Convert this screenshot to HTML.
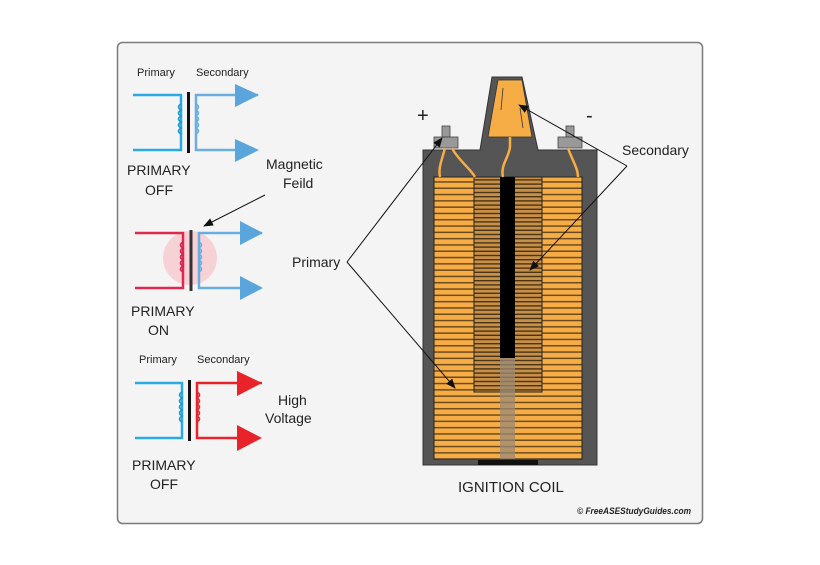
<!DOCTYPE html>
<html><head><meta charset="utf-8"><style>
html,body{margin:0;padding:0;background:#fff}
svg{display:block}
text{font-family:"Liberation Sans",sans-serif;fill:#222}
</style></head><body>
<svg width="820" height="565" viewBox="0 0 820 565" xmlns="http://www.w3.org/2000/svg">
<defs>
<pattern id="pri" width="10" height="6.3" patternUnits="userSpaceOnUse">
<rect width="10" height="6.3" fill="#f7ad45"/><rect y="4.8" width="10" height="1.5" fill="#6b4a1e"/>
</pattern>
<pattern id="sec" width="10" height="4.2" patternUnits="userSpaceOnUse">
<rect width="10" height="4.2" fill="#c89046"/><rect y="2.8" width="10" height="1.4" fill="#4a3416"/>
</pattern>
<marker id="ah" markerWidth="10" markerHeight="8" refX="9" refY="4" orient="auto" markerUnits="userSpaceOnUse"><path d="M0,0 L10,4 L0,8 Z" fill="#111"/></marker>
</defs>
<rect width="820" height="565" fill="#fff"/>
<rect x="117.5" y="42.5" width="585" height="481" rx="5" fill="#f4f4f4" stroke="#7a7a7a" stroke-width="1.5"/>

<!-- Transformer 1 -->
<g fill="none" stroke-width="2.5">
<path d="M133,95 H181 V150 H133" stroke="#29abe2"/>
<path d="M258,95 H196 V150 H240" stroke="#6aaedf"/>
<path d="M181,104 q-5,3 0,6 q-5,3 0,6 q-5,3 0,6 q-5,3 0,6 q-5,3 0,6" stroke="#1f95c9" stroke-width="1.6"/>
<path d="M196,104 q5,3 0,6 q5,3 0,6 q5,3 0,6 q5,3 0,6 q5,3 0,6" stroke="#6aaedf" stroke-width="1.6"/>
<line x1="188.5" y1="92" x2="188.5" y2="153" stroke="#111" stroke-width="3"/>
</g>
<path d="M235,84 L259,95 L235,107 Z M235,139 L259,150 L235,162 Z" fill="#5aa6dc"/>
<text x="137" y="76" font-size="11">Primary</text>
<text x="196" y="76" font-size="11">Secondary</text>
<text x="127" y="175" font-size="14">PRIMARY</text>
<text x="145" y="195" font-size="14">OFF</text>
<text x="266" y="169" font-size="14">Magnetic</text>
<text x="283" y="188" font-size="14">Feild</text>
<line x1="265" y1="195" x2="204" y2="226" stroke="#111" stroke-width="1" marker-end="url(#ah)"/>

<!-- Transformer 2 -->
<circle cx="190" cy="258" r="27" fill="#f6c9cf" opacity="0.8"/>
<g fill="none" stroke-width="2.5">
<path d="M135,233 H183 V288 H135" stroke="#e0284f"/>
<path d="M262,233 H199 V288 H242" stroke="#6aaedf"/>
<path d="M183,242 q-5,3 0,6 q-5,3 0,6 q-5,3 0,6 q-5,3 0,6 q-5,3 0,6" stroke="#d42048" stroke-width="1.6"/>
<path d="M199,242 q5,3 0,6 q5,3 0,6 q5,3 0,6 q5,3 0,6 q5,3 0,6" stroke="#6aaedf" stroke-width="1.6"/>
<line x1="191" y1="230" x2="191" y2="291" stroke="#333" stroke-width="3"/>
</g>
<path d="M240,221 L263,233 L240,245 Z M240,276 L263,288 L240,300 Z" fill="#5aa6dc"/>
<text x="131" y="316" font-size="14">PRIMARY</text>
<text x="148" y="335" font-size="14">ON</text>

<!-- Transformer 3 -->
<g fill="none" stroke-width="2.5">
<path d="M135,383 H182 V438 H135" stroke="#29abe2"/>
<path d="M262,383 H197 V438 H240" stroke="#e8232a"/>
<path d="M182,392 q-5,3 0,6 q-5,3 0,6 q-5,3 0,6 q-5,3 0,6 q-5,3 0,6" stroke="#1f95c9" stroke-width="1.6"/>
<path d="M197,392 q5,3 0,6 q5,3 0,6 q5,3 0,6 q5,3 0,6 q5,3 0,6" stroke="#e8232a" stroke-width="1.6"/>
<line x1="189.5" y1="380" x2="189.5" y2="441" stroke="#111" stroke-width="3"/>
</g>
<path d="M237,371 L262,383 L237,396 Z M237,425 L262,438 L237,451 Z" fill="#e8232a"/>
<text x="139" y="363" font-size="11">Primary</text>
<text x="197" y="363" font-size="11">Secondary</text>
<text x="278" y="405" font-size="14">High</text>
<text x="265" y="423" font-size="14">Voltage</text>
<text x="132" y="470" font-size="14">PRIMARY</text>
<text x="150" y="489" font-size="14">OFF</text>

<!-- Ignition coil -->
<path d="M492,77 H522 L538,150 H597 V465 H423 V150 H480 Z" fill="#555" stroke="#333" stroke-width="1"/>
<path d="M498,80 H522 L532,137 H488 Z" fill="#f7ad45" stroke="#333" stroke-width="0.8"/>
<line x1="503" y1="88" x2="501" y2="110" stroke="#333" stroke-width="0.8"/>
<line x1="520" y1="108" x2="523" y2="128" stroke="#333" stroke-width="0.8"/>
<rect x="442" y="126" width="8" height="11" fill="#999" stroke="#444" stroke-width="0.8"/>
<rect x="434" y="137" width="24" height="11" fill="#999" stroke="#444" stroke-width="0.8"/>
<rect x="566" y="126" width="8" height="11" fill="#999" stroke="#444" stroke-width="0.8"/>
<rect x="558" y="137" width="24" height="11" fill="#999" stroke="#444" stroke-width="0.8"/>
<rect x="434" y="177" width="148" height="282" fill="url(#pri)" stroke="#222" stroke-width="1"/>
<rect x="474" y="177" width="68" height="215" fill="url(#sec)" stroke="#222" stroke-width="1"/>
<rect x="500" y="177" width="15" height="181" fill="#000"/>
<rect x="500" y="358" width="15" height="101" fill="#9a8a76" opacity="0.75"/>
<rect x="478" y="460" width="60" height="5" fill="#111"/>
<g fill="none" stroke="#f7ad45" stroke-width="2.5">
<path d="M445,148 C442,160 438,168 440,177"/>
<path d="M452,148 C458,160 470,168 475,177"/>
<path d="M510,137 V146 C510,156 500,165 503,177"/>
<path d="M568,148 C572,160 578,168 578,177"/>
</g>
<text x="417" y="122" font-size="20">+</text>
<text x="586" y="122" font-size="20">-</text>
<text x="622" y="155" font-size="14">Secondary</text>
<g stroke="#111" stroke-width="1" fill="none">
<line x1="627" y1="166" x2="519" y2="105" marker-end="url(#ah)"/>
<line x1="627" y1="166" x2="530" y2="270" marker-end="url(#ah)"/>
<line x1="347" y1="262" x2="442" y2="138" marker-end="url(#ah)"/>
<line x1="347" y1="262" x2="455" y2="388" marker-end="url(#ah)"/>
</g>
<text x="292" y="267" font-size="14">Primary</text>
<text x="458" y="492" font-size="15">IGNITION COIL</text>
<text x="577" y="514" font-size="9" font-weight="bold" font-style="italic" textLength="114" lengthAdjust="spacingAndGlyphs">© FreeASEStudyGuides.com</text>
</svg>
</body></html>
